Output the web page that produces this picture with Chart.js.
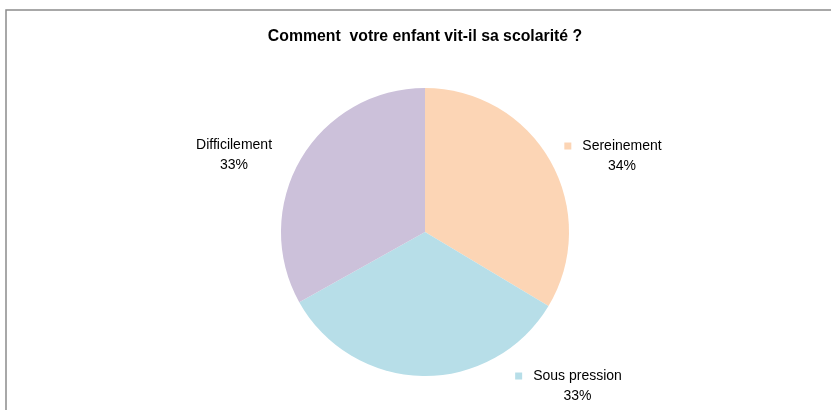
<!DOCTYPE html>
<html>
<head>
<meta charset="utf-8">
<script src="https://cdn.jsdelivr.net/npm/chart.js@4.4.1/dist/chart.umd.min.js"></script>
<style>
  html, body { margin: 0; padding: 0; background: #ffffff; }
  #wrap { position: relative; width: 831px; height: 410px; }
</style>
</head>
<body>
<div id="wrap"><canvas id="c" width="831" height="410"></canvas></div>
<script>
const categories = ["Sereinement", "Sous pression", "Difficilement"];
const percentages = [33.6, 33.3, 33.1];
const sliceColors = ["#FCD5B5", "#B7DEE8", "#CCC1DA"];
const chartTitle = "Comment  votre enfant vit-il sa scolarité ?";

// label placement relative to the slice (in units of the pie radius)
const labelPlacement = [
  { fx: 1.368, fy: -0.524, marker: true },
  { fx: 1.059, fy: 1.073, marker: true },
  { fx: -1.326, fy: -0.535, marker: false }
];

const frameBorder = {
  id: 'frameBorder',
  beforeDraw(chart) {
    const ctx = chart.ctx;
    ctx.save();
    ctx.strokeStyle = '#8c8c8c';
    ctx.lineWidth = 1.5;
    ctx.beginPath();
    ctx.moveTo(6, 420);
    ctx.lineTo(6, 10);
    ctx.lineTo(840, 10);
    ctx.stroke();
    ctx.restore();
  }
};

const outsideLabels = {
  id: 'outsideLabels',
  afterDatasetsDraw(chart) {
    const ctx = chart.ctx;
    const meta = chart.getDatasetMeta(0);
    const data = chart.data.datasets[0].data;
    ctx.save();
    ctx.font = '14px "Liberation Sans", Arial, sans-serif';
    ctx.fillStyle = '#000000';
    ctx.textAlign = 'center';
    ctx.textBaseline = 'middle';
    meta.data.forEach((arc, i) => {
      const p = arc.getProps(['x', 'y', 'outerRadius'], true);
      const pl = labelPlacement[i];
      const cx = p.x + pl.fx * p.outerRadius;
      const cy = p.y + pl.fy * p.outerRadius;
      const line1 = chart.data.labels[i];
      const line2 = Math.round(data[i]) + '%';
      const y1 = cy - 10, y2 = cy + 10;
      ctx.fillText(line1, cx, y1);
      ctx.fillText(line2, cx, y2);
      if (pl.marker) {
        const w = ctx.measureText(line1).width;
        ctx.fillStyle = chart.data.datasets[0].backgroundColor[i];
        ctx.fillRect(cx - w / 2 - 18, y1 - 4, 7, 7);
        ctx.fillStyle = '#000000';
      }
    });
    ctx.restore();
  }
};

new Chart(document.getElementById('c'), {
  type: 'pie',
  data: {
    labels: categories,
    datasets: [{
      data: percentages,
      backgroundColor: sliceColors,
      borderWidth: 0,
      hoverOffset: 0
    }]
  },
  options: {
    responsive: false,
    animation: false,
    devicePixelRatio: 1,
    rotation: 0,
    layout: { padding: { left: 100, right: 81, top: 0, bottom: 34 } },
    plugins: {
      legend: { display: false },
      tooltip: { enabled: false },
      title: {
        display: true,
        text: chartTitle,
        color: '#000000',
        font: { family: '"Liberation Sans", Arial, sans-serif', size: 15.8, weight: 'bold', lineHeight: 1.2 },
        padding: { top: 27.5, bottom: 41.5 }
      }
    }
  },
  plugins: [frameBorder, outsideLabels]
});
</script>
</body>
</html>
